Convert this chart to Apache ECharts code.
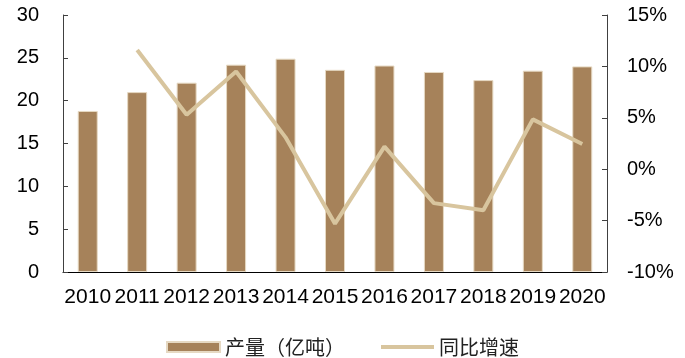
<!DOCTYPE html>
<html>
<head>
<meta charset="utf-8">
<script src="https://cdn.jsdelivr.net/npm/echarts@6/dist/echarts.min.js"></script>
<style>
  html, body { margin: 0; padding: 0; background: #fff; }
  #chart { width: 685px; height: 358px; }
</style>
</head>
<body>
<div id="chart"></div>
<script>
// Annual output (100 million tonnes) and year-on-year growth (%)
const years = ['2010', '2011', '2012', '2013', '2014', '2015', '2016', '2017', '2018', '2019', '2020'];
const output = [18.8, 21.0, 22.1, 24.2, 24.9, 23.6, 24.1, 23.35, 22.4, 23.5, 24.0];
const growth = [null, 11.6, 5.3, 9.5, 3.1, -5.3, 2.2, -3.3, -4.0, 4.85, 2.45];
const leftTicks = { min: 0, max: 30, interval: 5 };
const rightTicks = { min: -10, max: 15, interval: 5 };

const BAR_COLOR = '#A6825A';
const LINE_COLOR = '#D8C59E';
const FONT = '"Liberation Sans", Arial, sans-serif';
const CJK = '"Noto Sans CJK SC", sans-serif';

const chart = echarts.init(document.getElementById('chart'), null, { renderer: 'canvas' });
chart.setOption({
  animation: false,
  backgroundColor: '#fff',
  grid: { left: 63, right: 78, top: 15, bottom: 86, containLabel: false },
  legend: {
    left: 'center',
    top: 332,
    itemWidth: 53,
    itemHeight: 10,
    itemGap: 34,
    textStyle: { fontFamily: CJK, fontSize: 20, color: '#222' },
    data: [
      { name: '产量（亿吨）', icon: 'rect' },
      { name: '同比增速', itemStyle: { opacity: 0 }, lineStyle: { width: 4, color: LINE_COLOR } }
    ]
  },
  xAxis: {
    type: 'category',
    data: years,
    axisLine: { lineStyle: { color: '#000', width: 1 } },
    axisTick: { inside: true, length: 5, lineStyle: { color: '#000' } },
    axisLabel: { fontFamily: FONT, fontSize: 21, color: '#000', margin: 15, interval: 0 }
  },
  yAxis: [
    {
      type: 'value',
      min: leftTicks.min, max: leftTicks.max, interval: leftTicks.interval,
      splitLine: { show: false },
      axisLine: { show: true, lineStyle: { color: '#404040' } },
      axisTick: { show: true, inside: true, length: 5, lineStyle: { color: '#404040' } },
      axisLabel: { fontFamily: FONT, fontSize: 20, color: '#000', margin: 24 }
    },
    {
      type: 'value',
      min: rightTicks.min, max: rightTicks.max, interval: rightTicks.interval,
      position: 'right',
      splitLine: { show: false },
      axisLine: { show: true, lineStyle: { color: '#404040' } },
      axisTick: { show: true, inside: true, length: 5, lineStyle: { color: '#404040' } },
      axisLabel: { fontFamily: FONT, fontSize: 20, color: '#000', margin: 20, formatter: '{value}%' }
    }
  ],
  series: [
    {
      name: '产量（亿吨）',
      type: 'bar',
      yAxisIndex: 0,
      data: output,
      barWidth: 20,
      itemStyle: { color: BAR_COLOR, borderColor: '#E6D9C3', borderWidth: 1 }
    },
    {
      name: '同比增速',
      type: 'line',
      yAxisIndex: 1,
      data: growth,
      symbol: 'none',
      connectNulls: false,
      lineStyle: { color: LINE_COLOR, width: 4 },
      itemStyle: { color: LINE_COLOR }
    }
  ]
});
</script>
</body>
</html>
